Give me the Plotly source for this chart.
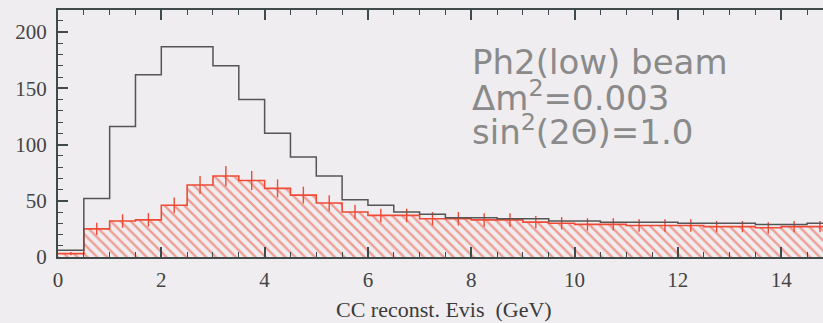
import numpy as np
import plotly.graph_objects as go

# ---- data ----
bin_width = 0.5
bin_low = np.arange(0.0, 15.0, bin_width)          # lower edges of the 30 bins
bin_centers = bin_low + bin_width / 2

# unoscillated (black) histogram
no_osc = [6, 52, 116, 162, 187, 187, 170, 140, 110, 89,
          72, 51, 46, 40, 38, 35, 35, 34, 34, 32,
          32, 31, 31, 31, 30, 30, 30, 29, 29, 30]

# oscillated (red, hatched) histogram
osc = [3, 25, 32, 33, 46, 64, 72, 68, 61, 55,
       48, 40, 37, 37, 34, 34, 33, 33, 31, 30,
       29, 29, 28, 28, 28, 27, 27, 26, 27, 27]

# error bars on the oscillated histogram
osc_err = [1.5, 5.5, 6, 6, 7, 8, 9, 8.5, 8, 7.5,
           7, 6.5, 6, 6, 6, 6, 6, 6, 5.5, 5.5,
           5.5, 5.5, 5.5, 5.5, 5.5, 5, 5, 5, 5, 5]

x_ticks = [0, 2, 4, 6, 8, 10, 12, 14]
y_ticks = [0, 50, 100, 150, 200]

text_lines = ["Ph2(low) beam", "Δm<sup>2</sup>=0.003", "sin<sup>2</sup>(2Θ)=1.0"]
x_title = "CC reconst. Evis  (GeV)"

# ---- figure ----
edges = list(bin_low) + [bin_low[-1] + bin_width]
RED = "#ee4a35"
BG = "#efedef"
AXC = "#3f4b4b"

fig = go.Figure()

fig.add_trace(go.Scatter(
    x=edges, y=list(osc) + [osc[-1]], mode="lines", line_shape="hv",
    line=dict(color=RED, width=1.6),
    fill="tozeroy", fillcolor="rgba(0,0,0,0)",
    fillpattern=dict(shape="\\", fgcolor=RED, bgcolor="rgba(0,0,0,0)",
                     size=7, solidity=0.33),
    hoverinfo="skip", showlegend=False))

fig.add_trace(go.Scatter(
    x=bin_centers, y=osc, mode="markers",
    marker=dict(size=1, color=RED),
    error_y=dict(type="data", array=osc_err, color=RED, thickness=1.4, width=0),
    showlegend=False))

fig.add_trace(go.Scatter(
    x=edges, y=list(no_osc) + [no_osc[-1]], mode="lines", line_shape="hv",
    line=dict(color="#555", width=1.5), showlegend=False))

X0, W = 57.5, 823 - 57.5
T, H = 10, 257.3 - 10
xmax = (823 - X0) / 51.69
ymax = H / 1.126

ys = [62, 96, 130]
for line, ypx in zip(text_lines, ys):
    fig.add_annotation(
        x=(470 - X0) / W, y=(257.3 - ypx) / H, xref="paper", yref="paper",
        text=line, showarrow=False, xanchor="left", yanchor="middle",
        font=dict(family="DejaVu Sans", size=34, color="#8a8a8a"))

fig.add_annotation(
    x=(444 - X0) / W, y=-(310 - 257.3) / H, xref="paper", yref="paper",
    text=x_title, showarrow=False, xanchor="center", yanchor="middle",
    font=dict(family="Liberation Serif", size=22, color="#3a3a3a"))

tickfont = dict(family="Liberation Serif", size=21, color="#444")
fig.update_layout(
    width=823, height=323,
    margin=dict(l=X0, r=0, t=T, b=323 - 257.3),
    paper_bgcolor=BG, plot_bgcolor=BG,
    xaxis=dict(range=[0, xmax], tickvals=x_ticks, ticks="inside", ticklen=10,
               tickwidth=1.5, tickcolor=AXC, showline=True, linecolor=AXC,
               linewidth=2, mirror="allticks", showgrid=False, zeroline=False,
               minor=dict(dtick=0.5, ticks="inside", ticklen=5, tickcolor=AXC,
                          tickwidth=1.2, showgrid=False),
               tickfont=tickfont, ticklabelstandoff=3),
    yaxis=dict(range=[0, ymax], tickvals=y_ticks, ticks="inside", ticklen=10,
               tickwidth=1.5, tickcolor=AXC, showline=True, linecolor=AXC,
               linewidth=2, mirror=False, showgrid=False, zeroline=False,
               minor=dict(dtick=10, ticks="inside", ticklen=5, tickcolor=AXC,
                          tickwidth=1.2, showgrid=False),
               tickfont=tickfont, ticklabelstandoff=5),
)

fig.write_html("out.html")
